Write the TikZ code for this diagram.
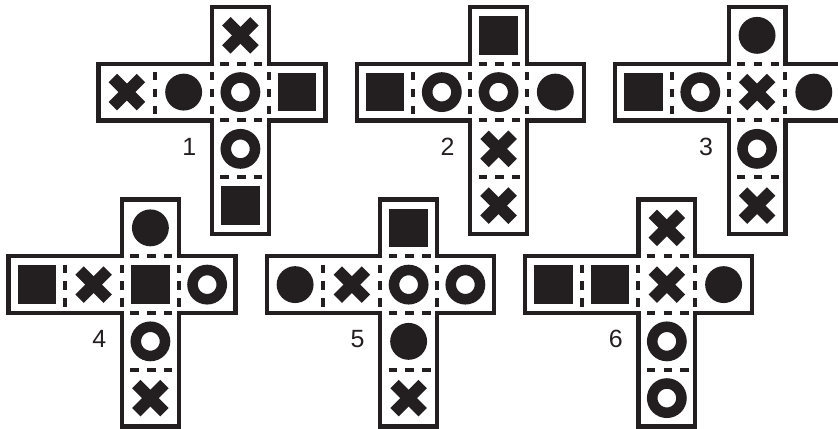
\documentclass[tikz,border=0pt]{standalone}
\usepackage{fontspec}
\setmainfont{Liberation Sans}
\definecolor{ink}{RGB}{35,31,32}
\tikzset{
  netline/.style={draw=ink,line width=2.2pt},
  fold/.style={draw=ink,line width=2pt,dash pattern=on 4.2pt off 4.2pt,dash phase=4.2pt},
  dot/.style={circle,fill=ink,minimum size=0.65cm,inner sep=0pt},
  ring/.style={circle,draw=ink,line width=5.3pt,minimum size=0.515cm,inner sep=0pt},
  sqr/.style={rectangle,fill=ink,minimum size=0.68cm,inner sep=0pt},
  xmark/.style={rectangle,minimum size=0.495cm,inner sep=0pt,outer sep=0pt,
    append after command={\pgfextra{\let\xnode\tikzlastnode}
      (\xnode.north west) edge[draw=ink,line width=6pt] (\xnode.south east)
      (\xnode.north east) edge[draw=ink,line width=6pt] (\xnode.south west)}},
  netnum/.style={font=\fontsize{12.5}{15}\selectfont,text=ink}
}
% #1 shift, #2 number, #3 top face, #4-#7 middle row, #8-#9 lower faces
\newcommand{\cubenet}[9]{%
\begin{scope}[shift={#1}]
\draw[fold] (1,-1) -- (1,-2);
\draw[fold] (2,-1) -- (3,-1);
\draw[fold] (2,-1) -- (2,-2);
\draw[fold] (3,-1) -- (3,-2);
\draw[fold] (2,-2) -- (3,-2);
\draw[fold] (2,-3) -- (3,-3);
\draw[netline] (2,0) -- (3,0) -- (3,-1) -- (4,-1) -- (4,-2) -- (3,-2) -- (3,-4) -- (2,-4) -- (2,-2) -- (0,-2) -- (0,-1) -- (2,-1) -- cycle;
\node[#3] (t#2) at (2.5,-0.5) {};
\node[#4] (a#2) at (0.5,-1.5) {};
\node[#5] (b#2) at (1.5,-1.5) {};
\node[#6] (c#2) at (2.5,-1.5) {};
\node[#7] (d#2) at (3.5,-1.5) {};
\node[#8] (e#2) at (2.5,-2.5) {};
\node[#9] (f#2) at (2.5,-3.5) {};
\node[netnum] (n#2) at (1.6,-2.46) {#2};
\end{scope}}
\begin{document}
\begin{tikzpicture}
\useasboundingbox (0,0) rectangle (14.766,-7.559);
\clip (0,0) rectangle (14.766,-7.559);

\cubenet{(1.736,-0.123)}{1}{xmark}{xmark}{dot}{ring}{sqr}{ring}{sqr}
\cubenet{(6.285,-0.123)}{2}{sqr}{sqr}{ring}{ring}{dot}{xmark}{xmark}
\cubenet{(10.84,-0.123)}{3}{dot}{sqr}{ring}{xmark}{dot}{ring}{xmark}

\cubenet{(0.15,-3.515)}{4}{dot}{sqr}{xmark}{sqr}{ring}{ring}{xmark}
\cubenet{(4.70,-3.515)}{5}{sqr}{dot}{xmark}{ring}{ring}{dot}{xmark}
\cubenet{(9.25,-3.515)}{6}{xmark}{sqr}{sqr}{xmark}{dot}{ring}{ring}
\end{tikzpicture}
\end{document}
